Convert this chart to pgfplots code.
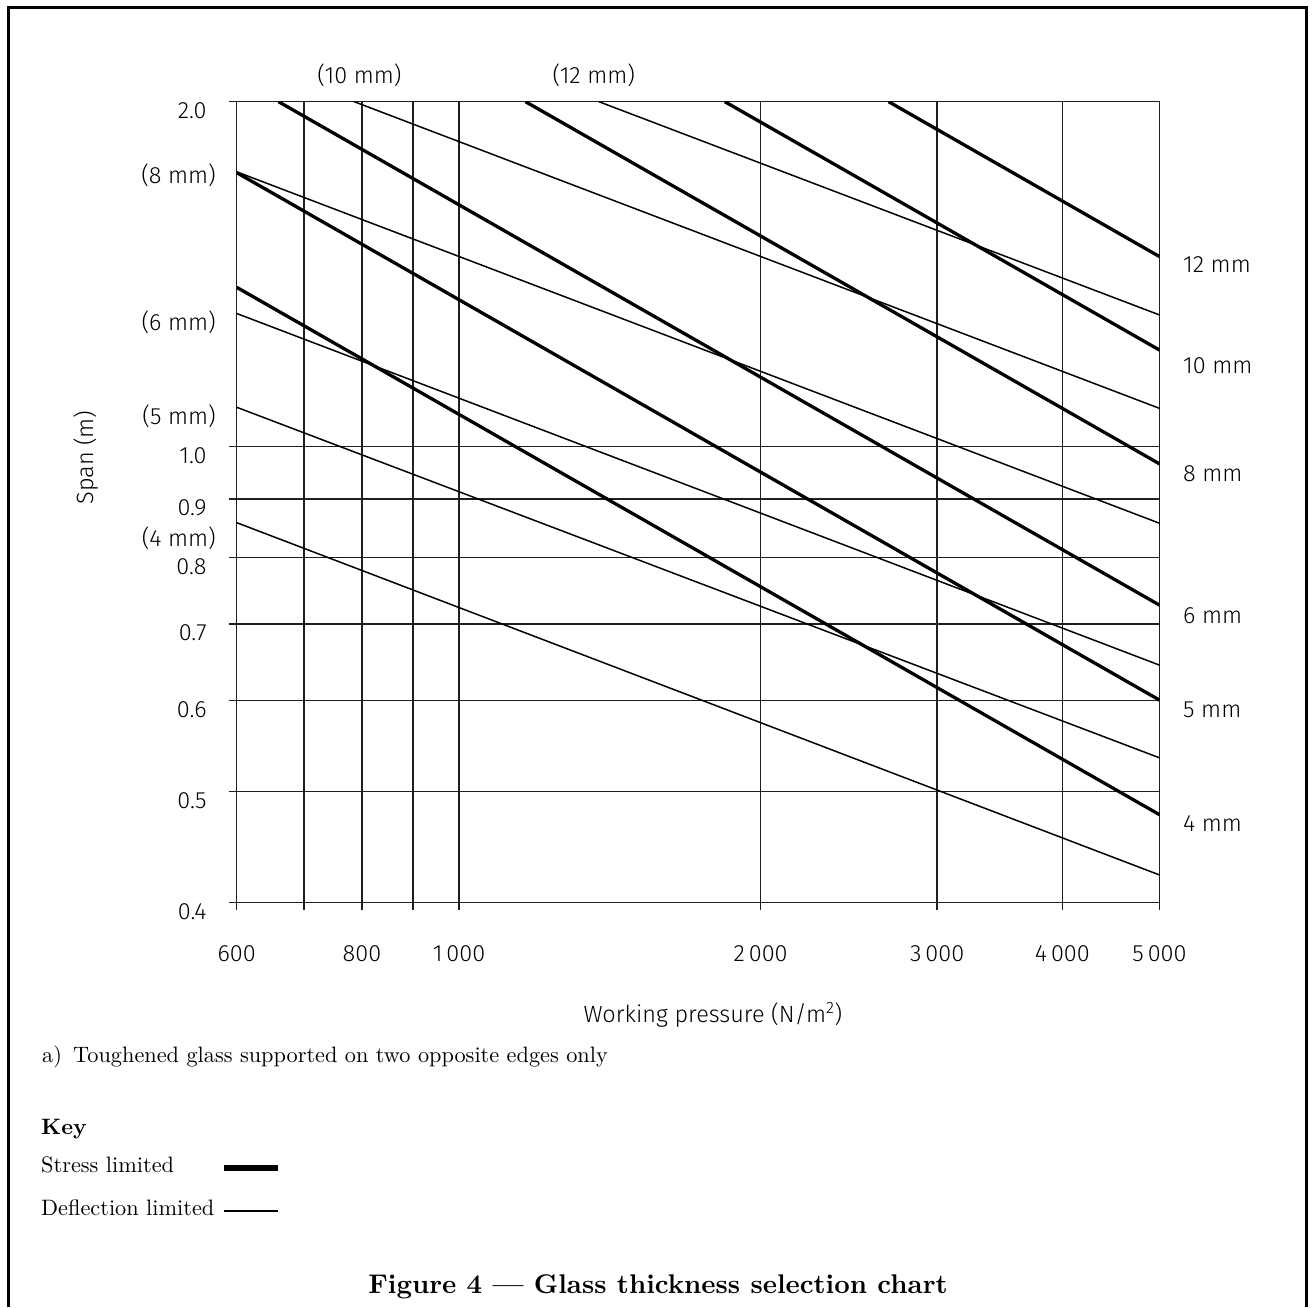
\documentclass[border=0pt]{standalone}
\usepackage{fontspec}
\usepackage{pgfplots}
\pgfplotsset{compat=1.18}

% Body serif at its 10pt design size, so large settings keep their weight
\setmainfont{lmroman10-regular.otf}[BoldFont=lmroman10-bold.otf, ItalicFont=lmroman10-italic.otf]
% Chart lettering in a light plain sans
\newfontfamily\chartfamily{Fira Sans Light}
\newcommand\chartfont{\chartfamily\fontsize{23.5}{28}\selectfont}
\newcommand\keyfont{\fontsize{22.3}{27}\selectfont}

\pgfplotsset{
  stress/.style={black, line width=3.3pt},
  defl/.style={black, line width=1.5pt},
}

\begin{document}
\begin{tikzpicture}[x=1pt, y=1pt]
  \path[use as bounding box] (0,0) rectangle (1312,1307);
  % page frame, open at the foot
  \draw[line width=2.6pt] (8.3,0) -- (8.3,1299.7) -- (1306.7,1299.7) -- (1306.7,0);

  \begin{axis}[
    at={(236.7pt,404.7pt)}, anchor=south west,
    scale only axis, width=922.8pt, height=800.6pt,
    xmode=log, ymode=log,
    xmin=600, xmax=5000, ymin=0.4, ymax=2.0,
    xtick={600,700,800,900,1000,2000,3000,4000,5000},
    xticklabels={600,,800,,1\,000,2\,000,3\,000,4\,000,5\,000},
    ytick={0.4,0.5,0.6,0.7,0.8,0.9,1.0,2.0},
    yticklabels={0.4,0.5,0.6,0.7,0.8,0.9,1.0,2.0},
    xminorticks=false, yminorticks=false,
    grid=major,
    major grid style={line width=1.5pt, black!88},
    axis line style={line width=1.5pt, black!88},
    tick align=outside, major tick length=8pt,
    tick style={line width=1.5pt, black!88},
    xtick pos=left, ytick pos=left,
    font=\chartfont,
    xticklabel style={anchor=north, inner sep=0pt, yshift=-35pt},
    yticklabel style={anchor=east, inner sep=0pt, xshift=-22pt, yshift=-9pt},
    xlabel={Working pressure (N/m\textsuperscript{2})},
    ylabel={Span (m)},
    xlabel style={at={(axis description cs:0.516,-0.1408)}, anchor=center, inner sep=0pt},
    ylabel style={at={(axis description cs:-0.1633,0.5556)}, anchor=center, inner sep=0pt, rotate=0},
  ]
    % stress limited: span falls as p^(-1/2)
    \addplot[stress] coordinates {(600,1.377) (5000,0.477)};
    \addplot[stress] coordinates {(600,1.734) (5000,0.6006)};
    \addplot[stress] coordinates {(660.5,2.0) (5000,0.727)};
    \addplot[stress] coordinates {(1165,2.0) (5000,0.9656)};
    \addplot[stress] coordinates {(1842,2.0) (5000,1.2138)};
    \addplot[stress] coordinates {(2683,2.0) (5000,1.4648)};
    % deflection limited: span falls as p^(-1/3)
    \addplot[defl] coordinates {(600,0.858) (5000,0.4226)};
    \addplot[defl] coordinates {(600,1.082) (5000,0.5348)};
    \addplot[defl] coordinates {(600,1.3065) (5000,0.6444)};
    \addplot[defl] coordinates {(600,1.737) (5000,0.857)};
    \addplot[defl] coordinates {(786,2.0) (5000,1.0796)};
    \addplot[defl] coordinates {(1379,2.0) (5000,1.3026)};
  \end{axis}

  % thickness labels
  \begin{scope}[font=\chartfont, inner sep=0pt]
    \node[anchor=west] at (1183,1042) {12 mm};
    \node[anchor=west] at (1183,941.3) {10 mm};
    \node[anchor=west] at (1183,833) {8 mm};
    \node[anchor=west] at (1183,691.3) {6 mm};
    \node[anchor=west] at (1183,597) {5 mm};
    \node[anchor=west] at (1183,483) {4 mm};
    \node[anchor=east] at (216,1131.3) {(8 mm)};
    \node[anchor=east] at (216,985) {(6 mm)};
    \node[anchor=east] at (216,890.3) {(5 mm)};
    \node[anchor=east] at (216,768.7) {(4 mm)};
    \node at (359.5,1232) {(10 mm)};
    \node at (593.8,1232) {(12 mm)};
  \end{scope}

  % note and key
  \begin{scope}[inner sep=0pt]
    \node[anchor=base west, font=\keyfont] at (42,244)
      {a)\enspace Toughened glass supported on two opposite edges only};
    \node[anchor=base west, font=\keyfont\bfseries] at (41,172) {Key};
    \node[anchor=base west, font=\keyfont] at (41,134.3) {Stress limited};
    \node[anchor=base west, font=\keyfont] at (41,91.7) {Deflection limited};
    \draw[line width=6pt] (224,139.3) -- (277.7,139.3);
    \draw[line width=1.8pt] (224,96) -- (277.7,96);
    \node[anchor=base, font=\fontsize{27}{32}\selectfont\bfseries] at (658,13.7)
      {Figure 4 — Glass thickness selection chart};
  \end{scope}
\end{tikzpicture}
\end{document}
